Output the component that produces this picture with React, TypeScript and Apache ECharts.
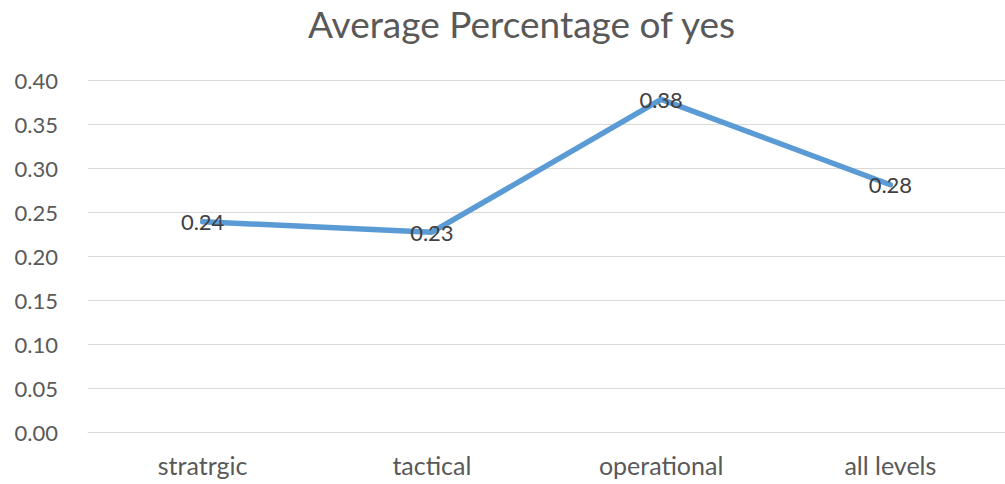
import React, { useEffect, useRef } from "react";
import * as echarts from "echarts";

const categories = ["stratrgic", "tactical", "operational", "all levels"];
const values = [0.239, 0.227, 0.378, 0.281];
const yTicks = { min: 0, max: 0.4, interval: 0.05 };
const titleText = "Average Percentage of yes";

export default function App() {
  const ref = useRef<HTMLDivElement>(null);
  useEffect(() => {
    if (!ref.current) return;
    const chart = echarts.init(ref.current, null, { renderer: "svg" });
    const font = "Lato, 'Open Sans', sans-serif";
    chart.setOption({
      animation: false,
      backgroundColor: "#ffffff",
      title: {
        text: titleText,
        left: 303,
        top: 0,
        textStyle: { fontFamily: font, fontSize: 37, fontWeight: "normal", color: "#595959" },
      },
      grid: { left: 88, right: 0, top: 80, bottom: 52 },
      xAxis: {
        type: "category",
        data: categories,
        boundaryGap: true,
        axisLine: { show: true, lineStyle: { color: "#d9d9d9", width: 1 } },
        axisTick: { show: false },
        axisLabel: { fontFamily: font, fontSize: 25, color: "#595959", margin: 20 },
      },
      yAxis: {
        type: "value",
        min: yTicks.min,
        max: yTicks.max,
        interval: yTicks.interval,
        axisLine: { show: false },
        axisTick: { show: false },
        splitLine: { lineStyle: { color: "#d9d9d9", width: 1 } },
        axisLabel: {
          fontFamily: font,
          fontSize: 22,
          color: "#595959",
          margin: 30,
          formatter: (v: number) => v.toFixed(2),
        },
      },
      series: [
        {
          type: "line",
          data: values,
          symbol: "circle",
          symbolSize: 1,
          showSymbol: true,
          itemStyle: { color: "rgba(91,155,213,0)" },
          lineStyle: { color: "#5b9bd5", width: 5.5, cap: "round", join: "round" },
          label: {
            show: true,
            position: "inside",
            fontFamily: font,
            fontSize: 22,
            color: "#404040",
            formatter: (p: any) => Number(p.value).toFixed(2),
          },
        },
      ],
    });
    return () => chart.dispose();
  }, []);
  return (
    <div
      ref={ref}
      style={{ position: "fixed", left: 0, top: 0, width: 1005, height: 484 }}
    />
  );
}
